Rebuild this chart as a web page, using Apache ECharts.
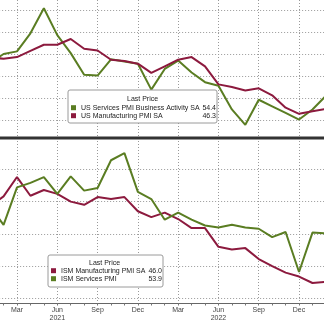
<!DOCTYPE html>
<html>
<head>
<meta charset="utf-8">
<script src="https://cdn.jsdelivr.net/npm/echarts@6/dist/echarts.min.js"></script>
<style>
  html, body { margin: 0; padding: 0; background: #ffffff; }
  #chart { width: 324px; height: 324px; }
</style>
</head>
<body>
<div id="chart"></div>
<script>
// ---- Data (monthly, Jan 2021 – Feb 2023) ----
const months = [
  '2021-01','2021-02','2021-03','2021-04','2021-05','2021-06','2021-07','2021-08','2021-09','2021-10','2021-11','2021-12',
  '2022-01','2022-02','2022-03','2022-04','2022-05','2022-06','2022-07','2022-08','2022-09','2022-10','2022-11','2022-12',
  '2023-01','2023-02'
];
const monthNames = ['Jan','Feb','Mar','Apr','May','Jun','Jul','Aug','Sep','Oct','Nov','Dec'];

// Top panel (S&P Global)
const usServices = [58.0, 60.0, 60.6, 64.7, 70.4, 64.3, 60.2, 55.3, 55.1, 58.8, 58.3, 57.8,
                    51.9, 56.6, 58.5, 55.8, 53.6, 52.8, 47.4, 43.9, 49.6, 48.1, 46.6, 45.1,
                    47.4, 50.5];
const usManufacturing = [59.3, 58.9, 59.3, 60.7, 62.1, 62.1, 63.4, 61.2, 60.8, 58.7, 58.4, 57.8,
                         55.7, 57.2, 58.7, 59.3, 57.2, 53.1, 52.5, 51.7, 52.2, 50.6, 47.8, 46.4,
                         47.0, 47.5];
// Bottom panel (ISM)
const ismManufacturing = [59.3, 60.8, 63.8, 60.9, 61.8, 61.2, 60.0, 59.5, 60.7, 60.4, 60.7, 58.5,
                          57.6, 58.3, 57.3, 55.9, 55.9, 53.0, 52.6, 52.8, 51.1, 50.0, 49.0, 48.4,
                          47.4, 47.6];
const ismServices = [59.2, 56.4, 62.2, 62.9, 63.8, 61.2, 63.9, 61.7, 62.1, 66.4, 67.5, 61.5,
                     60.4, 57.2, 58.3, 57.2, 56.3, 56.0, 56.4, 56.0, 55.8, 54.5, 55.3, 49.1,
                     55.2, 55.1];

// Legend "Last Price" values
const topNames = ['US Services PMI Business Activity SA', 'US Manufacturing PMI SA'];
const topLast = ['54.4', '46.3'];
const botNames = ['ISM Manufacturing PMI SA', 'ISM Services PMI'];
const botLast = ['46.0', '53.9'];

// ---- Styling ----
const GREEN = '#5a7d22';
const RED = '#8c1a3e';
const FONT = "'Liberation Sans', Arial, sans-serif";
const GRIDLINE = { color: '#999999', width: 1, type: [1, 2] };
const LEFT = -9.86, RIGHT = -1.9;

const monthOf = v => parseInt(v.split('-')[1], 10);
const isQuarter = (i, v) => [3, 6, 9, 12].includes(monthOf(v));

const chart = echarts.init(document.getElementById('chart'), null, { renderer: 'canvas' });

function hiddenX(gridIndex) {
  return {
    type: 'category', gridIndex, data: months, boundaryGap: false,
    axisLine: { show: false }, axisTick: { show: false }, axisLabel: { show: false },
    splitLine: { show: false }
  };
}
function panelY(gridIndex, min, max) {
  return {
    type: 'value', gridIndex, min, max, interval: 5,
    axisLine: { show: false }, axisTick: { show: false }, axisLabel: { show: false },
    splitLine: { show: true, lineStyle: GRIDLINE }
  };
}

function legendFormatter(names, lasts) {
  return name => {
    const i = names.indexOf(name);
    return '{n|' + name + '}{v|' + lasts[i] + '}';
  };
}

chart.setOption({
  animation: false,
  backgroundColor: '#ffffff',
  textStyle: { fontFamily: FONT },
  grid: [
    { left: LEFT, right: RIGHT, top: 10, bottom: 204, outerBoundsMode: 'none', containLabel: false },
    { left: LEFT, right: RIGHT, top: 169.3, bottom: 25.5, outerBoundsMode: 'none', containLabel: false },
    { left: LEFT, right: RIGHT, top: 0, bottom: 20.5, outerBoundsMode: 'none', containLabel: false }
  ],
  xAxis: [
    hiddenX(0),
    hiddenX(1),
    {
      type: 'category', gridIndex: 2, data: months, boundaryGap: false,
      axisLine: { show: true, lineStyle: { color: '#666', width: 1 } },
      axisTick: { show: true, interval: 0, length: 2, lineStyle: { color: '#777' } },
      axisLabel: {
        interval: isQuarter, margin: 3, fontSize: 7, lineHeight: 8, color: '#444', fontFamily: FONT,
        formatter: v => {
          const m = monthOf(v);
          return m === 6 ? monthNames[m - 1] + '\n' + v.split('-')[0] : monthNames[m - 1];
        }
      },
      splitLine: { show: true, interval: isQuarter, lineStyle: GRIDLINE }
    },
    {
      type: 'category', gridIndex: 2, data: months, boundaryGap: false,
      axisLine: { show: false }, axisLabel: { show: false }, splitLine: { show: false },
      axisTick: { show: true, length: 21, interval: (i, v) => monthOf(v) === 12, lineStyle: { color: '#999' } }
    }
  ],
  yAxis: [
    panelY(0, 45, 70),
    panelY(1, 45, 65),
    { type: 'value', gridIndex: 2, min: 0, max: 1, show: false }
  ],
  title: [
    { text: 'Last Price', left: 127, top: 95, padding: 0,
      textStyle: { fontSize: 7, fontWeight: 'normal', color: '#222', lineHeight: 8, fontFamily: FONT } },
    { text: 'Last Price', left: 89, top: 259, padding: 0,
      textStyle: { fontSize: 7, fontWeight: 'normal', color: '#222', lineHeight: 8, fontFamily: FONT } }
  ],
  legend: [
    {
      data: topNames, orient: 'vertical', left: 68, top: 90,
      padding: [13.7, 1, 3.3, 3], itemGap: 0, itemWidth: 5, itemHeight: 5, icon: 'rect',
      backgroundColor: '#ffffff', borderColor: '#9a9a9a', borderWidth: 1, borderRadius: 2,
      formatter: legendFormatter(topNames, topLast),
      textStyle: {
        fontSize: 7, lineHeight: 8, color: '#222', fontFamily: FONT,
        rich: { n: { width: 120, fontSize: 7, fontFamily: FONT, color: '#222' },
                v: { width: 15, align: 'right', fontSize: 7, fontFamily: FONT, color: '#222' } }
      },
      selectedMode: false
    },
    {
      data: botNames, orient: 'vertical', left: 48, top: 255,
      padding: [11.7, 1, 4.3, 3], itemGap: 0, itemWidth: 5, itemHeight: 5, icon: 'rect',
      backgroundColor: '#ffffff', borderColor: '#9a9a9a', borderWidth: 1, borderRadius: 2,
      formatter: legendFormatter(botNames, botLast),
      textStyle: {
        fontSize: 7, lineHeight: 8, color: '#222', fontFamily: FONT,
        rich: { n: { width: 87, fontSize: 7, fontFamily: FONT, color: '#222' },
                v: { width: 14, align: 'right', fontSize: 7, fontFamily: FONT, color: '#222' } }
      },
      selectedMode: false
    }
  ],
  graphic: [
    { type: 'rect', z: 100, shape: { x: 0, y: 136.5, width: 324, height: 3 }, style: { fill: '#333333' } }
  ],
  series: [
    { name: topNames[0], type: 'line', xAxisIndex: 0, yAxisIndex: 0, data: usServices,
      showSymbol: false, clip: false, color: GREEN, lineStyle: { width: 2, color: GREEN } },
    { name: topNames[1], type: 'line', xAxisIndex: 0, yAxisIndex: 0, data: usManufacturing,
      showSymbol: false, clip: false, color: RED, lineStyle: { width: 2, color: RED } },
    { name: botNames[0], type: 'line', xAxisIndex: 1, yAxisIndex: 1, data: ismManufacturing,
      showSymbol: false, clip: false, color: RED, lineStyle: { width: 2, color: RED } },
    { name: botNames[1], type: 'line', xAxisIndex: 1, yAxisIndex: 1, data: ismServices,
      showSymbol: false, clip: false, color: GREEN, lineStyle: { width: 2, color: GREEN } }
  ]
});
</script>
</body>
</html>
